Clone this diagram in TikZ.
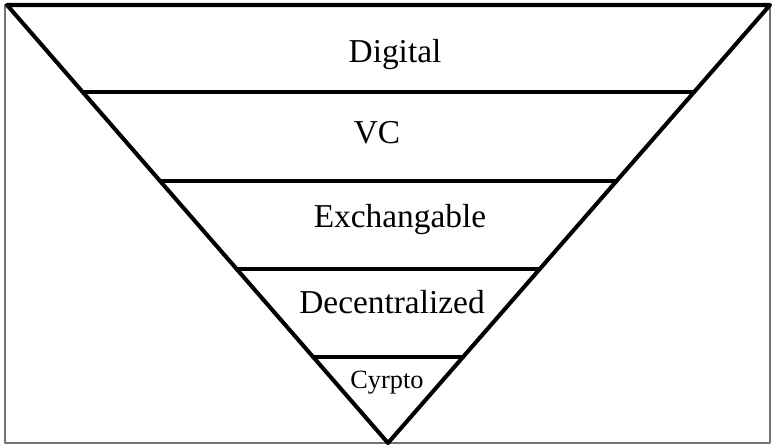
\documentclass[tikz,border=0pt]{standalone}
\usepackage{fontspec}
\setmainfont{Liberation Serif}
\begin{document}
\begin{tikzpicture}[x=0.02cm,y=-0.02cm,line cap=round,line join=round,
  layer/.style={anchor=base,font=\fontsize{19}{22}\selectfont},
  tip/.style={anchor=base,font=\fontsize{15}{18}\selectfont}]
  \useasboundingbox (0,0) rectangle (773,447);
  \draw[line width=0.9pt,black!55] (5,5) rectangle (770,443);
  \draw[line width=2.3pt] (7,5) -- (770,5) -- (388,443) -- cycle;
  % bands of the funnel
  \foreach \y in {92,181,269,357}
    \draw[line width=2.3pt] ({7+(\y-5)/438*381},\y) -- ({770-(\y-5)/438*382},\y);
  \node[layer] (digital) at (395,62) {Digital};
  \node[layer] (vc) at (377,143) {VC};
  \node[layer] (exch) at (400,227) {Exchangable};
  \node[layer] (decent) at (392,313) {Decentralized};
  \node[tip] (crypto) at (387,388) {Cyrpto};
\end{tikzpicture}
\end{document}
